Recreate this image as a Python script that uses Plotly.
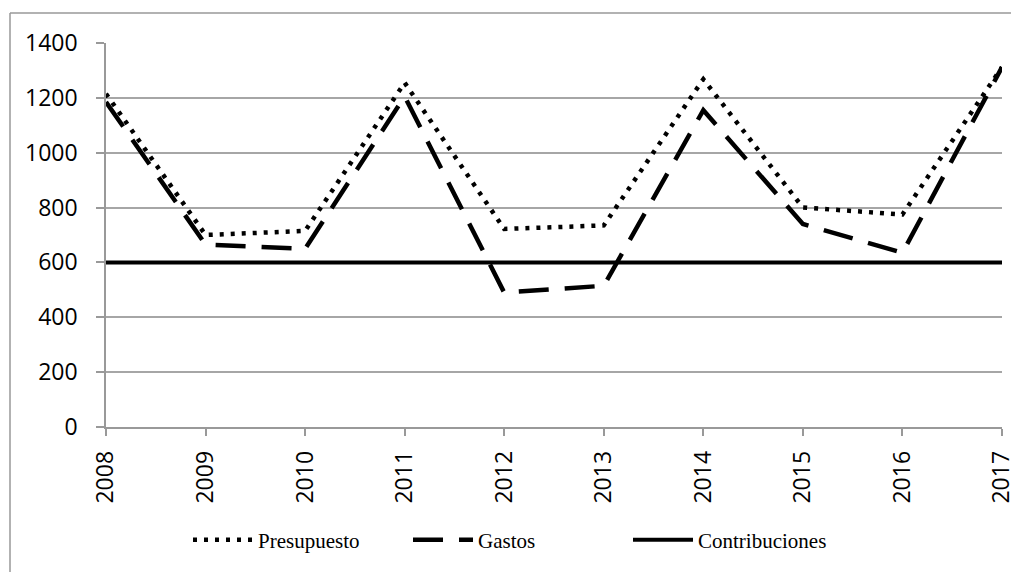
import plotly.graph_objects as go

years = ["2008", "2009", "2010", "2011", "2012", "2013", "2014", "2015", "2016", "2017"]
presupuesto = [1215, 700, 715, 1255, 722, 735, 1268, 800, 775, 1312]
gastos = [1185, 665, 650, 1205, 490, 515, 1155, 740, 635, 1312]
contribuciones = [600, 600, 600, 600, 600, 600, 600, 600, 600, 600]
y_ticks = [0, 200, 400, 600, 800, 1000, 1200, 1400]

# page has an 8px body margin; figure sized to fit the window
W, H = 1011, 564
L, T = 98, 35
pw, ph = 896, 384
R, B = W - L - pw, H - T - ph

fig = go.Figure()
fig.add_trace(go.Scatter(x=years, y=presupuesto, name="Presupuesto", mode="lines",
                         line=dict(color="black", width=4.5, dash="4px,7px")))
fig.add_trace(go.Scatter(x=years, y=gastos, name="Gastos", mode="lines",
                         line=dict(color="black", width=4.5, dash="30px,16px")))
fig.add_trace(go.Scatter(x=years, y=contribuciones, name="Contribuciones", mode="lines",
                         line=dict(color="black", width=4)))

# outer frame (left and top edges)
fx = (2 - L) / pw
fy_top = 1 + (T - 5) / ph
fy_bot = -(H - T - ph + 10) / ph
fig.add_shape(type="line", xref="paper", yref="paper", x0=fx, x1=(W + 10 - L) / pw,
              y0=fy_top, y1=fy_top, line=dict(color="#999999", width=1.5))
fig.add_shape(type="line", xref="paper", yref="paper", x0=fx, x1=fx,
              y0=fy_top, y1=fy_bot, line=dict(color="#999999", width=1.5))

fig.update_layout(
    width=W, height=H,
    margin=dict(l=L, r=R, t=T, b=B, autoexpand=False),
    plot_bgcolor="white", paper_bgcolor="white",
    showlegend=True,
    legend=dict(orientation="h", x=(180 - L) / pw, xanchor="left",
                y=-(532 - (T + ph)) / ph, yanchor="middle",
                font=dict(family="Liberation Serif", size=21, color="black"),
                itemwidth=60, entrywidth=145, entrywidthmode="pixels",
                tracegroupgap=0, bgcolor="rgba(0,0,0,0)"),
    xaxis=dict(type="category", range=[0, 9], tickangle=-90, automargin=False,
               showgrid=False, showline=True, linecolor="#999999", linewidth=1.5,
               ticks="outside", ticklen=7, tickcolor="#999999", tickwidth=1.5,
               ticklabelstandoff=6,
               tickfont=dict(family="Open Sans", size=23, color="black"),
               zeroline=False),
    yaxis=dict(range=[0, 1400], tickvals=y_ticks, showgrid=True, gridcolor="#a6a6a6",
               automargin=False,
               gridwidth=1.5, showline=True, linecolor="#999999", linewidth=1.5,
               ticks="outside", ticklen=8, tickcolor="#999999", tickwidth=1.5,
               ticklabelstandoff=14,
               tickfont=dict(family="Open Sans", size=23, color="black"),
               zeroline=False),
)
fig.write_html("out.html")
